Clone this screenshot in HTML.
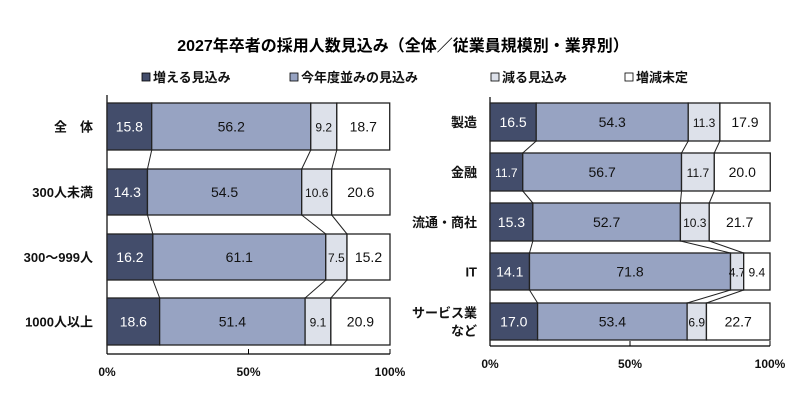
<!DOCTYPE html>
<html><head><meta charset="utf-8"><style>
body{margin:0;background:#fff;}
svg{display:block;font-family:"Liberation Sans","Noto Sans CJK JP",sans-serif;}
</style></head><body>
<svg id="s" width="806" height="408" viewBox="0 0 806 408" xmlns="http://www.w3.org/2000/svg">
<text x="403" y="51" text-anchor="middle" font-size="16" font-weight="bold" fill="#000">2027年卒者の採用人数見込み（全体／従業員規模別・業界別）</text>
<g font-size="13" fill="#111" font-weight="bold">
<rect x="142" y="73" width="8" height="8" fill="#434d6b" stroke="#000" stroke-width="0.8"/><text x="153" y="82">増える見込み</text>
<rect x="290" y="73" width="8" height="8" fill="#97a3c2" stroke="#000" stroke-width="0.8"/><text x="301" y="82">今年度並みの見込み</text>
<rect x="491" y="73" width="8" height="8" fill="#dde1ea" stroke="#000" stroke-width="0.8"/><text x="502" y="82">減る見込み</text>
<rect x="625" y="73" width="8" height="8" fill="#fff" stroke="#000" stroke-width="0.8"/><text x="636" y="82">増減未定</text>
</g>
</svg>
<script>
const s=document.getElementById('s');const NS='http://www.w3.org/2000/svg';
function el(t,a,txt){const e=document.createElementNS(NS,t);for(const k in a)e.setAttribute(k,a[k]);if(txt!==undefined)e.textContent=txt;s.appendChild(e);return e;}
const cols=['#434d6b','#97a3c2','#dde1ea','#ffffff'];
const tcol=['#fff','#111','#111','#111'];
function chart(x0,w,rows,axisY,topY,labX){
  el('line',{x1:x0,y1:topY,x2:x0,y2:axisY,stroke:'#000','stroke-width':1.2});
  el('line',{x1:x0,y1:axisY,x2:x0+w,y2:axisY,stroke:'#000','stroke-width':1.2});
  [0,50,100].forEach(p=>{const x=x0+w*p/100;el('line',{x1:x,y1:axisY,x2:x,y2:axisY-5,stroke:'#000','stroke-width':1});
    el('text',{x:x,y:axisY+22,'text-anchor':'middle','font-size':12,'font-weight':'bold',fill:'#111'},p+'%');});
  let prev=null;
  rows.forEach(r=>{
    let c=0;const b=[x0];
    r.v.forEach((v,i)=>{const x=x0+w*c/100,ww=w*v/100;
      el('rect',{x:x,y:r.y1,width:ww,height:r.y2-r.y1,fill:cols[i],stroke:'#222','stroke-width':1.3});
      const fs=v<12?12:14;
      el('text',{x:x+ww/2,y:(r.y1+r.y2)/2+5,'text-anchor':'middle','font-size':fs,fill:tcol[i]},v.toFixed(1));
      c+=v;b.push(x0+w*c/100);});
    if(prev){[1,2,3].forEach(i=>el('line',{x1:prev.b[i],y1:prev.y2,x2:b[i],y2:r.y1,stroke:'#222','stroke-width':1}));}
    r.l.forEach((t,k)=>el('text',{x:labX,y:(r.y1+r.y2)/2+5+(r.l.length>1?(k-0.5)*18:0),'text-anchor':'end','font-size':13,'font-weight':'bold',fill:'#111'},t));
    prev={b:b,y2:r.y2};
  });
}
chart(107,283,[
 {y1:103,y2:150,v:[15.8,56.2,9.2,18.7],l:['全　体']},
 {y1:169,y2:215,v:[14.3,54.5,10.6,20.6],l:['300人未満']},
 {y1:234,y2:280,v:[16.2,61.1,7.5,15.2],l:['300～999人']},
 {y1:298,y2:345,v:[18.6,51.4,9.1,20.9],l:['1000人以上']}
],354,95,93);
chart(490,280,[
 {y1:103,y2:141,v:[16.5,54.3,11.3,17.9],l:['製造']},
 {y1:153,y2:191,v:[11.7,56.7,11.7,20.0],l:['金融']},
 {y1:203,y2:241,v:[15.3,52.7,10.3,21.7],l:['流通・商社']},
 {y1:253,y2:290,v:[14.1,71.8,4.7,9.4],l:['IT']},
 {y1:303,y2:340,v:[17.0,53.4,6.9,22.7],l:['サービス業','など']}
],346,97,477);
</script>
</body></html>
